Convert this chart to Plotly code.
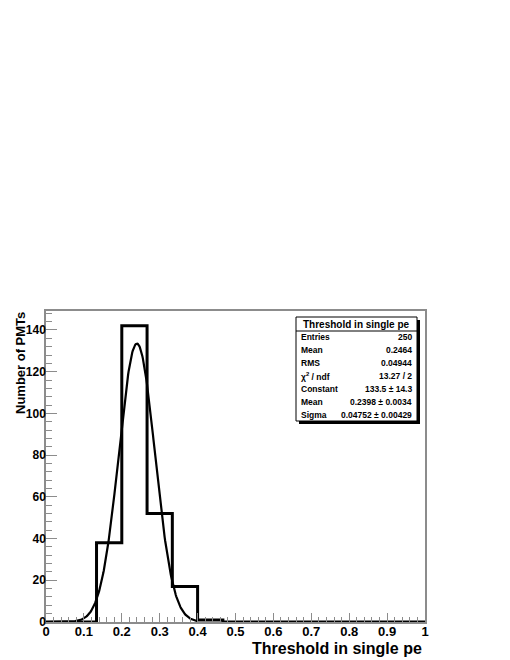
import numpy as np
import plotly.graph_objects as go

# histogram: 15 bins between 0 and 1
bin_edges = np.linspace(0, 1, 16)
counts = [0, 0, 38, 142, 52, 17, 1, 0, 0, 0, 0, 0, 0, 0, 0]

# gaussian fit parameters (from stats box)
fit_const = 133.5
fit_mean = 0.2398
fit_sigma = 0.04752
fit_range = (0.0, 0.4)

x_ticks = [0, 0.1, 0.2, 0.3, 0.4, 0.5, 0.6, 0.7, 0.8, 0.9, 1]
x_tick_labels = ["0", "0.1", "0.2", "0.3", "0.4", "0.5", "0.6", "0.7", "0.8", "0.9", "1"]

stats_rows = [
    ("Entries", "250"),
    ("Mean", "0.2464"),
    ("RMS", "0.04944"),
    ("χ<sup>2</sup> / ndf", "13.27 / 2"),
    ("Constant", "133.5 ± 14.3"),
    ("Mean", "0.2398 ± 0.0034"),
    ("Sigma", "0.04752 ± 0.00429"),
]

# the page body has an 8px margin, so work in window pixels and shift
OFF = 8
W, H = 510 - OFF, 660 - OFF
L, R, T, B = 46 - OFF, 85, 311 - OFF, 38
FONT = "Liberation Sans, Arial, Helvetica, sans-serif"


def px(x):
    return (x - OFF - L) / (W - L - R)


def py(y):
    return (H - B - (y - OFF)) / (H - T - B)


fig = go.Figure()

# step outline like a ROOT histogram
fig.add_trace(go.Scatter(
    x=list(bin_edges),
    y=counts + [0],
    mode="lines",
    line=dict(color="black", width=3, shape="hv"),
    hoverinfo="skip",
))

xf = np.linspace(fit_range[0], fit_range[1], 300)
yf = fit_const * np.exp(-0.5 * ((xf - fit_mean) / fit_sigma) ** 2)
fig.add_trace(go.Scatter(
    x=xf, y=yf, mode="lines",
    line=dict(color="black", width=2.2),
    hoverinfo="skip",
))

axis_common = dict(
    showgrid=False, zeroline=False, automargin=False,
    showline=True, mirror=True, linecolor="#8c8c8c", linewidth=1.5,
    ticks="inside", tickcolor="#8c8c8c", tickwidth=1,
)

fig.update_xaxes(
    range=[0, 1], tickmode="array", tickvals=x_ticks, ticktext=x_tick_labels,
    ticklen=9, tickangle=0, ticklabelstandoff=-3,
    tickfont=dict(family=FONT, size=13, color="black", weight="bold"),
    minor=dict(dtick=0.02, ticks="inside", ticklen=5, tickcolor="#8c8c8c"),
    **axis_common,
)
fig.update_yaxes(
    range=[0, max(counts) * 1.05], dtick=20, ticklen=11,
    tickfont=dict(family=FONT, size=12, color="black", weight="bold"),
    minor=dict(dtick=4, ticks="inside", ticklen=6, tickcolor="#8c8c8c"),
    ticklabelstandoff=-4,
    **axis_common,
)

shapes = []
annotations = []

# stats box with drop shadow
bx0, bx1, by0, by1 = 296, 417, 317, 421
shapes.append(dict(type="rect", xref="paper", yref="paper",
                   x0=px(bx0 + 3), x1=px(bx1 + 3), y0=py(by1 + 3), y1=py(by0 + 3),
                   fillcolor="black", line=dict(width=0)))
shapes.append(dict(type="rect", xref="paper", yref="paper",
                   x0=px(bx0), x1=px(bx1), y0=py(by1), y1=py(by0),
                   fillcolor="white", line=dict(color="black", width=1)))
title_bottom = 331
shapes.append(dict(type="line", xref="paper", yref="paper",
                   x0=px(bx0), x1=px(bx1), y0=py(title_bottom), y1=py(title_bottom),
                   line=dict(color="black", width=1)))

annotations.append(dict(
    text="Threshold in single pe", xref="paper", yref="paper",
    x=px((bx0 + bx1) / 2), y=py((by0 + title_bottom) / 2),
    xanchor="center", yanchor="middle", showarrow=False,
    font=dict(family=FONT, size=10, color="black", weight="bold"),
))
row_h = (by1 - title_bottom) / len(stats_rows)
for i, (name, val) in enumerate(stats_rows):
    yc = title_bottom + row_h * (i + 0.5)
    annotations.append(dict(
        text=name, xref="paper", yref="paper", x=px(bx0 + 3), y=py(yc),
        xanchor="left", yanchor="middle", showarrow=False,
        font=dict(family=FONT, size=8.5, color="black", weight="bold"),
    ))
    annotations.append(dict(
        text=val, xref="paper", yref="paper", x=px(bx1 - 3), y=py(yc),
        xanchor="right", yanchor="middle", showarrow=False,
        font=dict(family=FONT, size=8.5, color="black", weight="bold"),
    ))

# axis titles, right aligned as in ROOT
annotations.append(dict(
    text="Threshold in single pe", xref="paper", yref="paper",
    x=px(424), y=py(648), xanchor="right", yanchor="middle", showarrow=False,
    font=dict(family=FONT, size=16, color="black", weight="bold"),
))
annotations.append(dict(
    text="Number of PMTs", xref="paper", yref="paper",
    x=px(20), y=py(310), xanchor="center", yanchor="top", textangle=-90,
    showarrow=False,
    font=dict(family=FONT, size=13, color="black", weight="bold"),
))

fig.update_layout(
    width=W, height=H,
    margin=dict(l=L, r=R, t=T, b=B),
    paper_bgcolor="white", plot_bgcolor="white",
    showlegend=False,
    shapes=shapes, annotations=annotations,
)

fig.write_html("out.html")
